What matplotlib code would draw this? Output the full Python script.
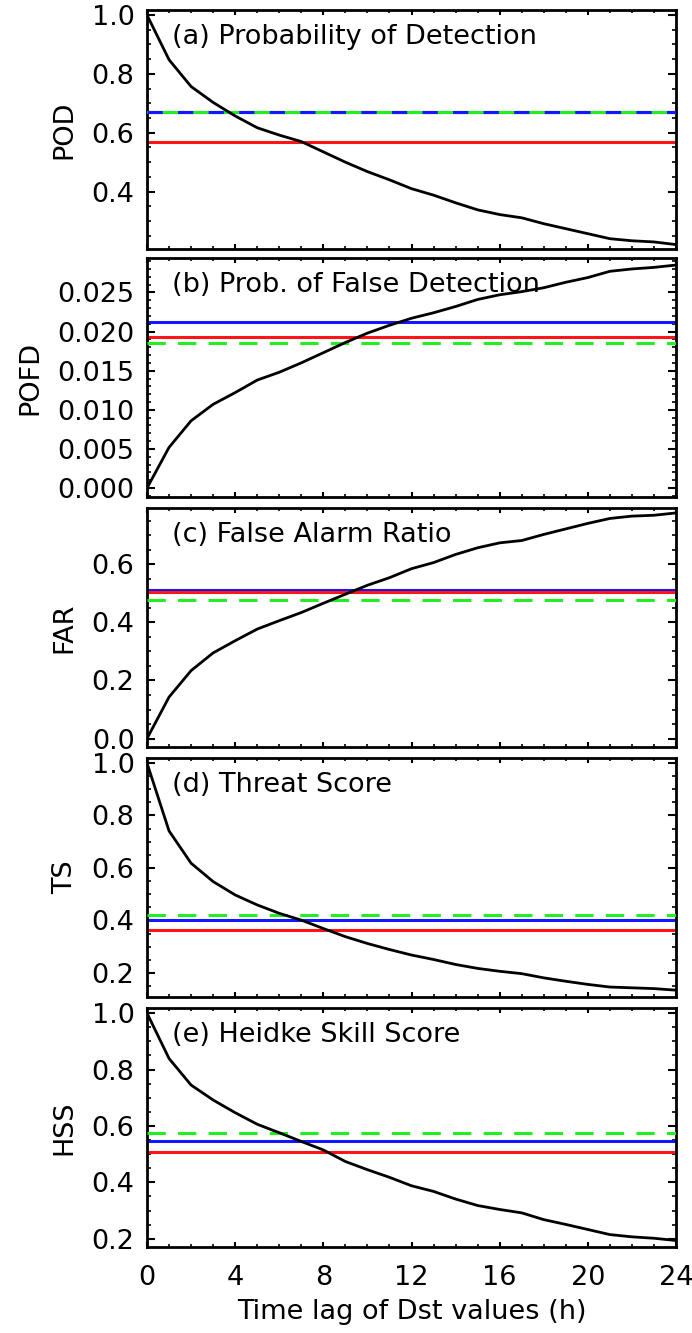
import matplotlib
matplotlib.use('Agg')
import matplotlib.pyplot as plt
from matplotlib.ticker import MultipleLocator

plt.rcParams['font.family'] = ['DejaVu Sans']

lag = list(range(0, 25))

pod = [1.0, 0.848, 0.757, 0.703, 0.657, 0.617, 0.592, 0.57, 0.535, 0.50, 0.468,
       0.44, 0.41, 0.388, 0.362, 0.338, 0.322, 0.311, 0.291, 0.274, 0.257, 0.24,
       0.233, 0.229, 0.22]
pofd = [0.0, 0.0052, 0.0086, 0.0107, 0.0122, 0.0138, 0.0148, 0.016, 0.0173, 0.0186,
        0.0198, 0.0208, 0.0217, 0.0224, 0.0232, 0.0241, 0.0247, 0.0251, 0.0256,
        0.0263, 0.0269, 0.0277, 0.028, 0.0282, 0.0285]
far = [0.0, 0.143, 0.234, 0.295, 0.337, 0.377, 0.406, 0.434, 0.466, 0.497, 0.528,
       0.554, 0.585, 0.606, 0.634, 0.657, 0.674, 0.682, 0.703, 0.722, 0.741, 0.758,
       0.766, 0.769, 0.777]
ts = [1.0, 0.741, 0.618, 0.548, 0.497, 0.459, 0.427, 0.401, 0.369, 0.338, 0.312,
      0.289, 0.268, 0.251, 0.232, 0.217, 0.206, 0.197, 0.181, 0.168, 0.156, 0.146,
      0.143, 0.14, 0.134]
hss = [1.0, 0.839, 0.745, 0.692, 0.647, 0.606, 0.576, 0.545, 0.515, 0.474, 0.445,
       0.418, 0.388, 0.368, 0.341, 0.318, 0.304, 0.292, 0.268, 0.251, 0.233, 0.215,
       0.207, 0.202, 0.194]

# reference levels: red, blue, green (dashed)
red_ref = [0.57, 0.0193, 0.504, 0.365, 0.509]
blue_ref = [0.672, 0.0212, 0.511, 0.401, 0.545]
green_ref = [0.672, 0.01856, 0.478, 0.422, 0.574]

titles = ['(a) Probability of Detection', '(b) Prob. of False Detection',
          '(c) False Alarm Ratio', '(d) Threat Score', '(e) Heidke Skill Score']
ylabels = ['POD', 'POFD', 'FAR', 'TS', 'HSS']
curves = [pod, pofd, far, ts, hss]

ylims = [(0.205, 1.017), (-0.00114, 0.0294), (-0.029, 0.794), (0.108, 1.019), (0.171, 1.018)]
yticks = [[0.4, 0.6, 0.8, 1.0],
          [0.0, 0.005, 0.010, 0.015, 0.020, 0.025],
          [0.0, 0.2, 0.4, 0.6],
          [0.2, 0.4, 0.6, 0.8, 1.0],
          [0.2, 0.4, 0.6, 0.8, 1.0]]
yfmt = ['%.1f', '%.3f', '%.1f', '%.1f', '%.1f']
yminor = [0.05, 0.001, 0.05, 0.05, 0.05]

W, H = 692, 1333
fig = plt.figure(figsize=(W / 100, H / 100), dpi=100)

tops = [10, 258, 508, 758, 1008]
ph = 239
left, width = 147, 529
fs = 19.5

for i in range(5):
    ax = fig.add_axes([left / W, 1 - (tops[i] + ph) / H, width / W, ph / H])
    ax.plot(lag, curves[i], color='black', lw=2.0, zorder=4)
    ax.axhline(blue_ref[i], color='#1515ff', lw=2.2, zorder=2)
    ax.axhline(red_ref[i], color='#ff1515', lw=2.2, zorder=2)
    ax.axhline(green_ref[i], color='#22ee22', lw=2.2, dashes=(6, 4), zorder=3)
    if i == 0:
        # blue and green coincide here: blue dashes over a green line
        ax.axhline(green_ref[i], color='#22ee22', lw=2.2, zorder=3)
        ax.axhline(blue_ref[i], color='#1515ff', lw=2.2, dashes=(5, 5),
                   zorder=3)

    ax.set_xlim(0, 24)
    ax.set_ylim(*ylims[i])
    ax.set_yticks(yticks[i])
    ax.set_yticklabels([yfmt[i] % v for v in yticks[i]])
    ax.yaxis.set_minor_locator(MultipleLocator(yminor[i]))
    ax.xaxis.set_major_locator(MultipleLocator(4))
    ax.xaxis.set_minor_locator(MultipleLocator(1))

    for s in ax.spines.values():
        s.set_linewidth(2.0)
    ax.tick_params(axis='y', which='major', direction='in', length=6, width=1.5,
                   labelsize=fs, pad=9, left=True, right=True)
    ax.tick_params(axis='y', which='minor', direction='in', length=3, width=1.2,
                   left=True, right=True)
    ax.tick_params(axis='x', which='major', direction='in', length=3.5, width=1.5,
                   labelsize=fs, pad=13, top=True, bottom=True)
    ax.tick_params(axis='x', which='minor', direction='in', length=2, width=1.2,
                   top=True, bottom=True)

    ax.text(0.047, 0.885, titles[i], transform=ax.transAxes, fontsize=fs,
            ha='left', va='center')
    ax.set_ylabel(ylabels[i], fontsize=fs, labelpad=10)

    if i < 4:
        ax.tick_params(axis='x', labelbottom=False)
    else:
        ax.set_xlabel('Time lag of Dst values (h)', fontsize=fs, labelpad=6)

fig.savefig('out.png', dpi=100)
